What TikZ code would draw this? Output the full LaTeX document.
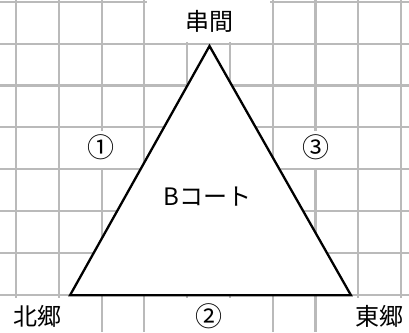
\documentclass[tikz,border=0pt]{standalone}
\usepackage{fontspec}
\setmainfont{Noto Sans CJK JP}
\begin{document}
\begin{tikzpicture}[x=1pt,y=-1pt,
  gridline/.style={draw=black!27, line width=2.1pt},
  cover/.style={fill=white},
  lbl/.style={font=\fontsize{24}{28}\selectfont, inner sep=0pt},
  num/.style={font=\fontsize{27}{30}\selectfont, inner sep=0pt},
  edge/.style={draw=black, line width=2.3pt, fill=white, line join=miter}]
\useasboundingbox (0,0) rectangle (409,332);
\fill[white] (0,0) rectangle (409,332);
\foreach \i in {0,...,9} \draw[gridline] ({16+42.78*\i},0) -- ({16+42.78*\i},332);
\foreach \j in {0,...,7} \draw[gridline] (0,{1.7+41.9*\j}) -- (409,{1.7+41.9*\j});
% white covers behind labels
\fill[cover] (146.5,-1) rectangle (270,41.8);
\fill[cover] (-1,297.5) rectangle (100,333);
\fill[cover] (146.5,297.5) rectangle (270,333);
\fill[cover] (317.5,297.5) rectangle (410,333);
\fill[cover] (61.5,130.5) rectangle (142,167.5);
\fill[cover] (274.5,130.5) rectangle (356,167.5);
% triangle
\coordinate (A) at (209.5,46);
\coordinate (B) at (70,295.3);
\coordinate (C) at (351,295.3);
\draw[edge] (B) -- (A) -- (C) -- cycle;
% labels
\node[lbl] (kushima) at (209,21) {串間};
\node[lbl] (kitago) at (37.5,316) {北郷};
\node[lbl] (togo) at (379,316) {東郷};
\node[lbl] (court) at (207.5,197) {Bコート};
\node[num] (n1) at (101,147) {①};
\node[num] (n2) at (209,316) {②};
\node[num] (n3) at (316,147) {③};
\end{tikzpicture}
\end{document}
